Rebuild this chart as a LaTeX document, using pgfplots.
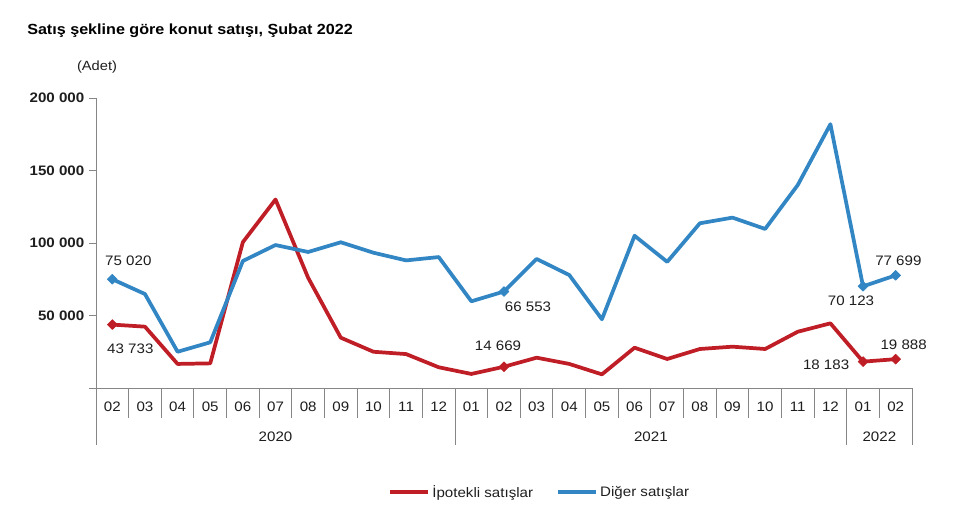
\documentclass[border=0pt]{standalone}
\usepackage{pgfplots}
\pgfplotsset{compat=1.18}
\usepackage{fontspec}
\setmainfont{Liberation Sans}[FakeStretch=1.1]
\definecolor{redline}{RGB}{192,30,38}
\definecolor{blueline}{RGB}{50,134,196}
\definecolor{axgray}{RGB}{134,134,134}
\definecolor{txt}{RGB}{30,30,30}
\begin{document}
\begin{tikzpicture}[x=0.75pt,y=-0.75pt]
\path[use as bounding box] (0,0) rectangle (978,513);
\coordinate (O) at (96,388);
\node[anchor=west,font=\fontsize{11}{13}\selectfont\bfseries,text=black,inner sep=0pt] at (27,31) {Satış şekline göre konut satışı, Şubat 2022};
\node[font=\fontsize{10}{12}\selectfont,text=txt,inner sep=0pt] at (97,67) {(Adet)};
\begin{axis}[
  at={(O)}, anchor=south west,
  scale only axis, width=612pt, height=217.5pt,
  xmin=-0.5, xmax=24.5, ymin=0, ymax=200000,
  axis x line*=bottom, axis y line*=left,
  axis line style={axgray, line width=0.75pt, -},
  clip=false,
  xtick={0,...,24},
  xticklabels={02,03,04,05,06,07,08,09,10,11,12,01,02,03,04,05,06,07,08,09,10,11,12,01,02},
  xtick style={draw=none},
  xticklabel style={font=\fontsize{10.3}{12}\selectfont, text=txt, anchor=base, yshift=-12pt},
  ytick={0,50000,100000,150000,200000},
  yticklabels={{},{50 000},{100 000},{150 000},{200 000}},
  ytick style={axgray, line width=0.75pt},
  tick align=outside, major tick length=5.25pt,
  yticklabel style={font=\fontsize{10.3}{12}\selectfont\bfseries, text=txt},
  scaled y ticks=false,
  legend columns=2,
  legend style={at={(0.544,-0.359)}, anchor=center, draw=none, fill=none,
    font=\fontsize{10.3}{12}\selectfont, text=txt,
    /tikz/every even column/.append style={column sep=15pt}},
  legend image code/.code={\draw[#1, mark=none] (0pt,0pt) -- (28.5pt,0pt);},
]
\addplot[redline, line width=2.8pt, line join=round, mark=square*, mark size=2.6pt, mark indices={1,13,24,25}, mark options={line width=0.5pt, rotate=45}] coordinates {
(0,43733) (1,42300) (2,16600) (3,17000) (4,100600) (5,130000) (6,76000) (7,34700) (8,25000) (9,23400) (10,14300)
(11,9700) (12,14669) (13,20900) (14,16600) (15,9400) (16,27800) (17,20000) (18,26900) (19,28500) (20,26900) (21,38800) (22,44600)
(23,18183) (24,19888)};
\addlegendentry{İpotekli satışlar}
\addplot[blueline, line width=2.8pt, line join=round, mark=square*, mark size=2.6pt, mark indices={1,13,24,25}, mark options={line width=0.5pt, rotate=45}] coordinates {
(0,75020) (1,64800) (2,25000) (3,31500) (4,87600) (5,98600) (6,93800) (7,100500) (8,93300) (9,88000) (10,90300)
(11,59800) (12,66553) (13,89000) (14,77900) (15,47400) (16,105000) (17,87000) (18,113600) (19,117500) (20,109700) (21,140000) (22,181900)
(23,70123) (24,77699)};
\addlegendentry{Diğer satışlar}
% separators
\pgfplotsinvokeforeach{0.5,1.5,...,9.5,11.5,12.5,...,21.5,23.5}{
  \draw[axgray, line width=0.75pt] (axis cs:#1,0) -- ++(0pt,-22.5pt);
}
\pgfplotsinvokeforeach{-0.5,10.5,22.5,24.5}{
  \draw[axgray, line width=0.75pt] (axis cs:#1,0) -- ++(0pt,-42.75pt);
}
\tikzset{yl/.style={font=\fontsize{10.3}{12}\selectfont, text=txt, inner sep=0pt}}
\node[yl, anchor=base] at ([yshift=-40pt]axis cs:5,0) {2020};
\node[yl, anchor=base] at ([yshift=-40pt]axis cs:16.5,0) {2021};
\node[yl, anchor=base] at ([yshift=-40pt]axis cs:23.5,0) {2022};
% data labels
\node[yl, xshift=12pt, yshift=13.5pt] at (axis cs:0,75020) {75 020};
\node[yl, xshift=13.5pt, yshift=-18pt] at (axis cs:0,43733) {43 733};
\node[yl, xshift=18pt, yshift=-11.6pt] at (axis cs:12,66553) {66 553};
\node[yl, xshift=-4.5pt, yshift=15.5pt] at (axis cs:12,14669) {14 669};
\node[yl, xshift=-9pt, yshift=-11.2pt] at (axis cs:23,70123) {70 123};
\node[yl, xshift=2pt, yshift=11.2pt] at (axis cs:24,77699) {77 699};
\node[yl, xshift=-27.7pt, yshift=-2.5pt] at (axis cs:23,18183) {18 183};
\node[yl, xshift=6pt, yshift=10.5pt] at (axis cs:24,19888) {19 888};
\end{axis}
\end{tikzpicture}
\end{document}
